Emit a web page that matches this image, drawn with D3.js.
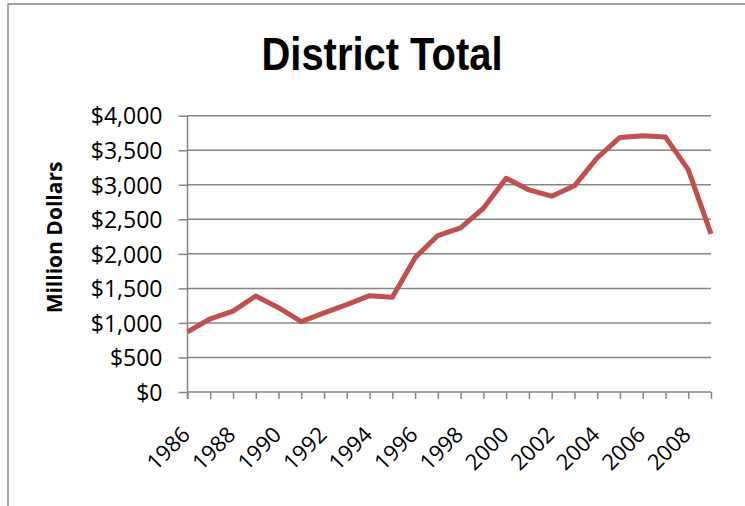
<!DOCTYPE html>
<html>
<head>
<meta charset="utf-8">
<script src="https://cdn.jsdelivr.net/npm/d3@7"></script>
<style>
  body { margin: 0; background: #fff; }
  svg { display: block; }
</style>
</head>
<body>
<svg id="chart"></svg>
<script>
const years = d3.range(1986, 2010);
const totals = [870, 1060, 1170, 1390, 1220, 1020, 1145, 1265, 1395, 1370,
  1945, 2265, 2375, 2660, 3095, 2925, 2835, 2985, 3390, 3685,
  3710, 3690, 3220, 2290];
const yTicks = [0, 500, 1000, 1500, 2000, 2500, 3000, 3500, 4000];
const labelYears = d3.range(1986, 2009, 2);

const width = 745, height = 506;
const svg = d3.select("#chart").attr("width", width).attr("height", height);

// chart border (runs off the right and bottom edge)
svg.append("rect")
  .attr("x", 8).attr("y", 4)
  .attr("width", 800).attr("height", 600)
  .attr("fill", "#fff")
  .attr("stroke", "#888")
  .attr("stroke-width", 1.5);

const x = d3.scaleLinear().domain([1986, 2009]).range([187.5, 711]);
const y = d3.scaleLinear().domain([0, 4000]).range([392, 115.7]);

// gridlines
svg.append("g")
  .selectAll("line")
  .data(yTicks.filter(d => d > 0))
  .join("line")
  .attr("x1", 187.5).attr("x2", 711)
  .attr("y1", d => y(d)).attr("y2", d => y(d))
  .attr("stroke", "#868686")
  .attr("stroke-width", 1.5);

// y axis
const yAxis = svg.append("g")
  .attr("transform", "translate(187.5,0)")
  .call(d3.axisLeft(y).tickValues(yTicks).tickSize(9).tickPadding(16)
    .tickFormat(d => "$" + d3.format(",")(d)));
yAxis.selectAll("line, path").attr("stroke", "#868686").attr("stroke-width", 1.5);
yAxis.select(".domain").attr("d", `M0,${y(4000)}V399`);
yAxis.selectAll("text")
  .attr("font-family", "'Open Sans', sans-serif")
  .attr("font-size", 23)
  .attr("fill", "#000")
  .attr("dy", "0.36em");

// x axis
const xAxis = svg.append("g")
  .attr("transform", `translate(0,${y(0)})`)
  .call(d3.axisBottom(x).tickValues(years).tickSize(7).tickFormat(""));
xAxis.selectAll("line, path").attr("stroke", "#868686").attr("stroke-width", 1.5);
xAxis.select(".domain").attr("d", `M187.5,0H711`);

svg.append("g")
  .selectAll("text")
  .data(labelYears)
  .join("text")
  .attr("transform", d => `translate(${x(d) + 4},436) rotate(-45)`)
  .attr("text-anchor", "end")
  .attr("font-family", "'Open Sans', sans-serif")
  .attr("font-size", 22)
  .attr("fill", "#000")
  .text(d => d);

// line
const line = d3.line()
  .x((d, i) => x(years[i]))
  .y(d => y(d));

svg.append("path")
  .datum(totals)
  .attr("fill", "none")
  .attr("stroke", "#C0504D")
  .attr("stroke-width", 5)
  .attr("stroke-linejoin", "round")
  .attr("d", line);

// title
svg.append("text")
  .attr("x", 382).attr("y", 70)
  .attr("text-anchor", "middle")
  .attr("font-family", "'Liberation Sans', Arial, sans-serif")
  .attr("font-weight", "bold")
  .attr("font-size", 46)
  .attr("textLength", 241)
  .attr("lengthAdjust", "spacingAndGlyphs")
  .text("District Total");

// y axis title
svg.append("text")
  .attr("transform", "translate(62,237.5) rotate(-90)")
  .attr("text-anchor", "middle")
  .attr("font-family", "'Open Sans', sans-serif")
  .attr("font-weight", "bold")
  .attr("font-size", 21)
  .text("Million Dollars");
</script>
</body>
</html>
